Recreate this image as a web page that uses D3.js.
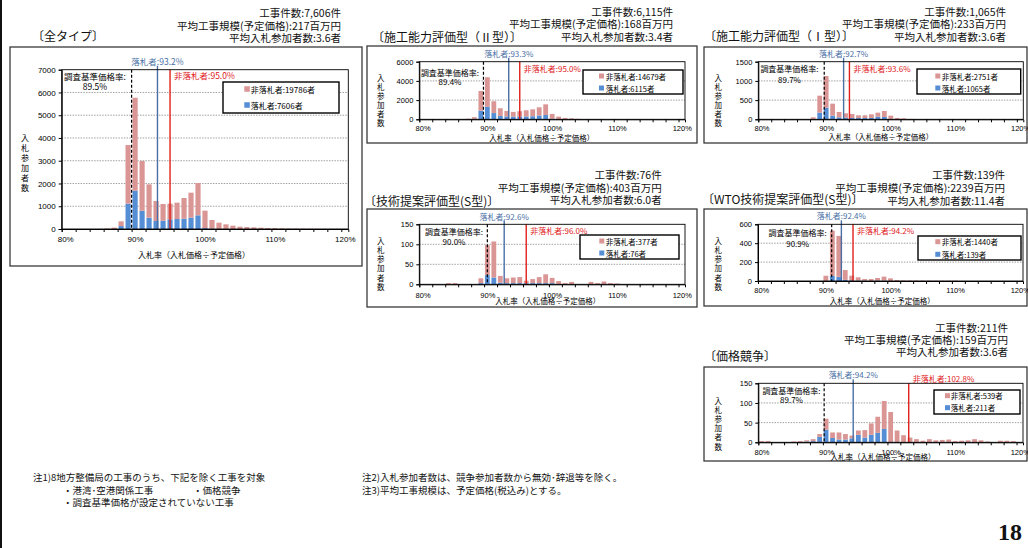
<!DOCTYPE html>
<html>
<head>
<meta charset="utf-8">
<script src="https://cdn.jsdelivr.net/npm/d3@7"></script>
<style>
  html, body { margin: 0; padding: 0; background: #fff; }
  svg { display: block; font-family: "Noto Sans CJK JP", "Noto Sans", sans-serif; }
</style>
</head>
<body>
<svg id="chart" width="1028" height="548"></svg>
<script>
// ---- data -------------------------------------------------------------
// bid-rate categories (percent of planned price), one bar per category
const rateCategories = [80,81,82,83,84,85,86,87,88,89,90,91,92,93,94,95,96,97,98,99,100,
                        101,102,103,104,105,106,107,108,109,110,111,112,113,114,115,116,117,118,119,120];
const xTickValues = [80, 90, 100, 110, 120];
const xTickLabels = ["80%", "90%", "100%", "110%", "120%"];

const panelTitles = ["〔全タイプ〕", "〔施工能力評価型（Ⅱ型）〕", "〔施工能力評価型（Ⅰ型）〕",
                     "〔技術提案評価型(S型)〕", "〔WTO技術提案評価型(S型)〕", "〔価格競争〕"];
const caseCounts  = ["7,606", "6,115", "1,065", "76", "139", "211"];
const avgScales   = ["217", "168", "233", "403", "2239", "159"];
const avgBidders  = ["3.6", "3.4", "3.6", "6.0", "11.4", "3.6"];
const surveyRates = [89.5, 89.4, 89.7, 90.0, 90.9, 89.7];
const winnerRates = [93.2, 93.3, 92.7, 92.6, 92.4, 94.2];
const loserRates  = [95.0, 95.0, 93.6, 96.0, 94.2, 102.8];
const loserTotals  = [19786, 14679, 2751, 377, 1440, 539];
const winnerTotals = [7606, 6115, 1065, 76, 139, 211];
const yMaxes     = [7000, 6000, 1500, 150, 600, 150];
const yTickSteps = [1000, 2000, 500, 50, 200, 50];

// bidder counts per category: 落札者 (winners) and 非落札者 (non-winners)
const allTypeWinners = [0,0,0,0,0,0,0,0,130,1113,1684,805,498,351,366,425,439,454,498,600,40,20,
                        0,0,0,0,0,0,0,0,0,0,0,0,0,0,0,0,0,0,0];
const allTypeLosers  = [0,0,0,0,0,0,20,60,207,2576,4084,2182,1464,879,732,688,718,908,1098,1420,765,375,
                        278,205,146,102,88,73,58,44,35,28,22,18,15,12,10,8,6,5,4];
const type2Winners = [0,0,0,0,0,0,0,0,60,900,1300,650,350,300,280,300,300,320,400,450,60,20,
                      0,0,0,0,0,0,0,0,0,0,0,0,0,0,0,0,0,0,0];
const type2Losers  = [0,0,0,0,0,0,0,60,160,2050,3080,1230,800,570,490,540,640,720,850,1110,500,260,
                      140,100,50,30,20,15,10,8,6,0,0,0,0,0,0,0,0,0,0];
const type1Winners = [0,0,0,0,0,0,0,0,10,173,303,95,52,43,35,35,35,35,69,61,10,0,
                      0,0,0,0,0,0,0,0,0,0,0,0,0,0,0,0,0,0,0];
const type1Losers  = [0,0,0,0,0,0,0,0,42,442,824,312,139,113,104,69,69,95,104,156,85,35,
                      26,10,0,0,0,0,0,0,0,0,0,0,0,0,0,0,0,0,0];
const sTypeWinners = [0,0,0,0,0,0,0,0,0,3,23,17,4,3,3,3,3,3,3,3,3,0,
                      0,0,0,0,0,0,0,0,0,0,0,0,0,0,0,0,0,0,0];
const sTypeLosers  = [0,0,0,0,3,3,0,0,0,12,75,90,17,12,14,15,6,10,15,22,13,8,
                      3,6,0,0,6,3,7,3,2,0,0,0,0,0,0,0,0,0,0];
const wtoWinners = [0,0,0,0,0,0,0,0,0,0,0,55,45,12,8,5,4,0,4,4,0,0,
                    0,0,0,0,0,0,0,0,0,0,0,0,0,0,0,0,0,0,0];
const wtoLosers  = [0,0,0,0,0,0,0,0,0,0,56,478,432,104,48,34,17,21,28,42,28,11,
                    6,5,5,4,4,3,3,3,3,0,0,0,0,0,0,0,0,0,0];
const priceWinners = [0,0,0,0,0,0,0,2,3,14,32,11,7,7,10,19,12,19,24,34,0,0,
                      0,0,0,0,0,0,0,0,0,0,0,0,0,0,0,0,0,0,0];
const priceLosers  = [3,3,0,0,0,2,3,3,5,7,28,14,18,14,7,11,19,29,41,71,77,30,
                      18,12,8,4,8,5,6,7,3,4,5,8,5,2,0,4,4,3,0];

const winnerSeries = [allTypeWinners, type2Winners, type1Winners, sTypeWinners, wtoWinners, priceWinners];
const loserSeries  = [allTypeLosers, type2Losers, type1Losers, sTypeLosers, wtoLosers, priceLosers];

// ---- layout of the six panels ----------------------------------------
const layouts = [
  { box:[10,47,362,266], plot:[61.7,69.7,348.3,229], headRight:341, headY:[12,25,37], titleX:32, titleY:35,
    yTitleX:25, yTitleY:137, yTitleStep:10, legend:[223,82,339,113], legendRows:[89,105], sqX:244.3, legTextX:250.7,
    surveyX:95, surveyY:[76,86], blueY:61, redY:75, xLabelY:239, xTitleY:254, xTitleX:194, fs:8, big:true },
  { box:[367,46,697,143], plot:[419.3,61.7,685,119.3], headRight:673, headY:[11.5,23.5,36.5], titleX:372, titleY:36.5,
    yTitleX:380.7, yTitleY:77, yTitleStep:9, legend:[583,70,683,94], legendRows:[76,88], sqX:599, legTextX:605.7,
    surveyX:450, surveyY:[72,81], blueY:53, redY:68, xLabelY:128.5, xTitleY:137, xTitleX:541.7, fs:7.5 },
  { box:[704,47,1027,143], plot:[758.3,61.7,1023.3,119.3], headRight:1006, headY:[11.5,23.5,36.5], titleX:704, titleY:35,
    yTitleX:718.3, yTitleY:77, yTitleStep:9, legend:[917,69,1020.7,94], legendRows:[76,88], sqX:935.3, legTextX:941.7,
    surveyX:789.5, surveyY:[68.3,79], blueY:53, redY:68, xLabelY:128.5, xTitleY:136.7, xTitleX:880.8, fs:7.5 },
  { box:[367,209,697,307], plot:[419.3,224.3,685,284.3], headRight:661.7, headY:[174.5,187,199.5], titleX:364, titleY:200,
    yTitleX:380.7, yTitleY:240, yTitleStep:9.3, legend:[580,235,679,259], legendRows:[241,253], sqX:599.3, legTextX:605.7,
    surveyX:454, surveyY:[231.7,241.7], blueY:216.7, redY:230.7, xLabelY:295, xTitleY:300, xTitleX:547.7, fs:7.5 },
  { box:[704,209,1027,306], plot:[758,224.3,1023,281], headRight:1005, headY:[174.5,187.5,200], titleX:702, titleY:198,
    yTitleX:718.3, yTitleY:240, yTitleStep:9.3, legend:[918,236,1021,260], legendRows:[241.7,254.3], sqX:935.3, legTextX:941.7,
    surveyX:797.7, surveyY:[232.7,243.3], blueY:215, redY:230, xLabelY:290.7, xTitleY:300, xTitleX:882.3, fs:7.5 },
  { box:[704,367,1027,461], plot:[758.3,383.3,1023,442.3], headRight:1008, headY:[327,339,351], titleX:704, titleY:355.5,
    yTitleX:718.3, yTitleY:400, yTitleStep:9.2, legend:[934,390,1020,414], legendRows:[395.7,407.7], sqX:945, legTextX:950.7,
    surveyX:791.5, surveyY:[390,399.3], blueY:374, redY:378.3, xLabelY:452.7, xTitleY:456, xTitleX:883, fs:7.5 }
];

const PINK = "#DA9694";
const BLUE = "#558ED5";
const LINE_BLUE = "#4A6FA5";
const LINE_RED = "#E0201B";

const svg = d3.select("#chart");
svg.append("rect").attr("width", 1028).attr("height", 548).attr("fill", "#fff");
svg.append("rect").attr("x", 0).attr("y", 0).attr("width", 2).attr("height", 548).attr("fill", "#111");

function addText(g, x, y, txt, opts = {}) {
  return g.append("text")
    .attr("x", x).attr("y", y)
    .attr("text-anchor", opts.anchor || "start")
    .attr("dominant-baseline", "central")
    .attr("font-size", opts.size || 8)
    .attr("font-weight", opts.weight || "normal")
    .attr("fill", opts.color || "#000")
    .text(txt);
}

function drawPanel(i) {
  const L = layouts[i];
  const winners = winnerSeries[i];
  const losers = loserSeries[i];
  const g = svg.append("g");

  // header block and title
  const heads = [`工事件数:${caseCounts[i]}件`,
                 `平均工事規模(予定価格):${avgScales[i]}百万円`,
                 `平均入札参加者数:${avgBidders[i]}者`];
  heads.forEach((t, k) => addText(g, L.headRight, L.headY[k], t, { anchor: "end", size: 10.5, color: "#111" }));
  addText(g, L.titleX, L.titleY, panelTitles[i], { size: 12, color: "#111" });

  // chart frame
  const [bx0, by0, bx1, by1] = L.box;
  g.append("rect").attr("x", bx0).attr("y", by0).attr("width", bx1 - bx0).attr("height", by1 - by0)
    .attr("fill", "#fff").attr("stroke", "#3a3a3a").attr("stroke-width", 1.3);

  const [px0, py0, px1, py1] = L.plot;
  const x = d3.scaleLinear().domain([79.5, 120.5]).range([px0, px1]);
  const y = d3.scaleLinear().domain([0, yMaxes[i]]).range([py1, py0]);
  const slot = x(1) - x(0);
  const bw = slot * 0.74;
  const yTicks = d3.range(0, yMaxes[i] + 1, yTickSteps[i]);

  // dotted gridlines
  g.append("g").selectAll("line").data(yTicks.filter(v => v > 0 && v < yMaxes[i])).join("line")
    .attr("x1", px0).attr("x2", px1).attr("y1", d => y(d)).attr("y2", d => y(d))
    .attr("stroke", "#8a8a8a").attr("stroke-width", 0.8).attr("stroke-dasharray", "1.5,1.2");

  // stacked bars: winners at the bottom, non-winners on top
  const rows = rateCategories.map((c, k) => ({ c, w: winners[k], l: losers[k] }));
  g.append("g").selectAll("rect").data(rows.filter(d => d.w > 0)).join("rect")
    .attr("x", d => x(d.c) - bw / 2).attr("width", bw)
    .attr("y", d => y(d.w)).attr("height", d => y(0) - y(d.w))
    .attr("fill", BLUE);
  g.append("g").selectAll("rect").data(rows.filter(d => d.l > 0)).join("rect")
    .attr("x", d => x(d.c) - bw / 2).attr("width", bw)
    .attr("y", d => y(d.w + d.l)).attr("height", d => y(d.w) - y(d.w + d.l))
    .attr("fill", PINK);

  // reference lines
  g.append("line").attr("x1", x(surveyRates[i])).attr("x2", x(surveyRates[i])).attr("y1", py0).attr("y2", py1)
    .attr("stroke", "#000").attr("stroke-width", 1.2).attr("stroke-dasharray", "3,2");
  g.append("line").attr("x1", x(winnerRates[i])).attr("x2", x(winnerRates[i])).attr("y1", py0 - 4).attr("y2", py1)
    .attr("stroke", LINE_BLUE).attr("stroke-width", 1.4);
  g.append("line").attr("x1", x(loserRates[i])).attr("x2", x(loserRates[i])).attr("y1", py0).attr("y2", py1)
    .attr("stroke", LINE_RED).attr("stroke-width", 1.4);

  // plot border
  g.append("rect").attr("x", px0).attr("y", py0).attr("width", px1 - px0).attr("height", py1 - py0)
    .attr("fill", "none").attr("stroke", "#000").attr("stroke-width", 0.9);

  // y axis
  const yAxis = g.append("g").attr("transform", `translate(${px0},0)`)
    .call(d3.axisLeft(y).tickValues(yTicks).tickSize(3).tickPadding(3).tickFormat(d3.format("d")));
  yAxis.select(".domain").attr("stroke", "#000");
  yAxis.selectAll(".tick line").attr("stroke", "#000");
  yAxis.selectAll("text").attr("font-size", L.fs).attr("font-family", null).attr("fill", "#000");

  // x axis: tick marks every two categories, labels every ten
  const boundaries = d3.range(79.5, 120.6, 2);
  const xAxis = g.append("g").attr("transform", `translate(0,${py1})`)
    .call(d3.axisBottom(x).tickValues(boundaries).tickSize(3).tickFormat(""));
  xAxis.select(".domain").attr("stroke", "#000");
  xAxis.selectAll(".tick line").attr("stroke", "#000");
  const xLab = g.append("g").attr("transform", `translate(0,${py1})`)
    .call(d3.axisBottom(x).tickValues(xTickValues).tickSize(0).tickFormat((d, k) => xTickLabels[k]));
  xLab.select(".domain").remove();
  xLab.selectAll("text").attr("y", L.xLabelY - py1).attr("dy", "0.35em")
    .attr("font-size", L.fs).attr("font-family", null).attr("fill", "#000");

  // axis titles
  addText(g, L.xTitleX, L.xTitleY, "入札率（入札価格÷予定価格）", { anchor: "middle", size: L.fs });
  Array.from("入札参加者数").forEach((ch, k) =>
    addText(g, L.yTitleX, L.yTitleY + k * L.yTitleStep, ch, { anchor: "middle", size: L.fs }));

  // annotations for the three reference rates
  addText(g, L.surveyX, L.surveyY[0], "調査基準価格率:", { anchor: "middle", size: L.big ? 8.5 : 8 });
  addText(g, L.surveyX, L.surveyY[1], `${surveyRates[i].toFixed(1)}%`, { anchor: "middle", size: L.big ? 8.5 : 8 });
  addText(g, x(winnerRates[i]), L.blueY, `落札者:${winnerRates[i].toFixed(1)}%`,
    { anchor: "middle", size: L.big ? 8.5 : 8, color: LINE_BLUE });
  addText(g, x(loserRates[i]) + 4, L.redY, `非落札者:${loserRates[i].toFixed(1)}%`,
    { size: L.big ? 8.5 : 8, color: LINE_RED });

  // legend
  const [lx0, ly0, lx1, ly1] = L.legend;
  g.append("rect").attr("x", lx0).attr("y", ly0).attr("width", lx1 - lx0).attr("height", ly1 - ly0)
    .attr("fill", "#fff").attr("stroke", "#000").attr("stroke-width", 1.4);
  const sq = L.big ? 5.5 : 5;
  [[PINK, `非落札者:${loserTotals[i]}者`], [BLUE, `落札者:${winnerTotals[i]}者`]].forEach(([col, txt], k) => {
    g.append("rect").attr("x", L.sqX).attr("y", L.legendRows[k] - sq / 2).attr("width", sq).attr("height", sq).attr("fill", col);
    addText(g, L.legTextX, L.legendRows[k], txt, { size: L.fs });
  });
}

layouts.forEach((_, i) => drawPanel(i));

// footnotes
const notes = svg.append("g");
const noteOpts = { size: 9.5, color: "#111" };
addText(notes, 33, 477, "注1)8地方整備局の工事のうち、下記を除く工事を対象", noteOpts);
addText(notes, 63, 489.5, "・港湾･空港関係工事", noteOpts);
addText(notes, 193, 489.5, "・価格競争", noteOpts);
addText(notes, 63, 502, "・調査基準価格が設定されていない工事", noteOpts);
addText(notes, 362, 477, "注2)入札参加者数は、競争参加者数から無効･辞退等を除く。", noteOpts);
addText(notes, 362, 489.5, "注3)平均工事規模は、予定価格(税込み)とする。", noteOpts);

// page number
svg.append("text").attr("x", 1022).attr("y", 540).attr("text-anchor", "end")
  .attr("font-family", "'Liberation Serif', serif").attr("font-weight", "bold").attr("font-size", 24)
  .attr("fill", "#111").text("18");
</script>
</body>
</html>
